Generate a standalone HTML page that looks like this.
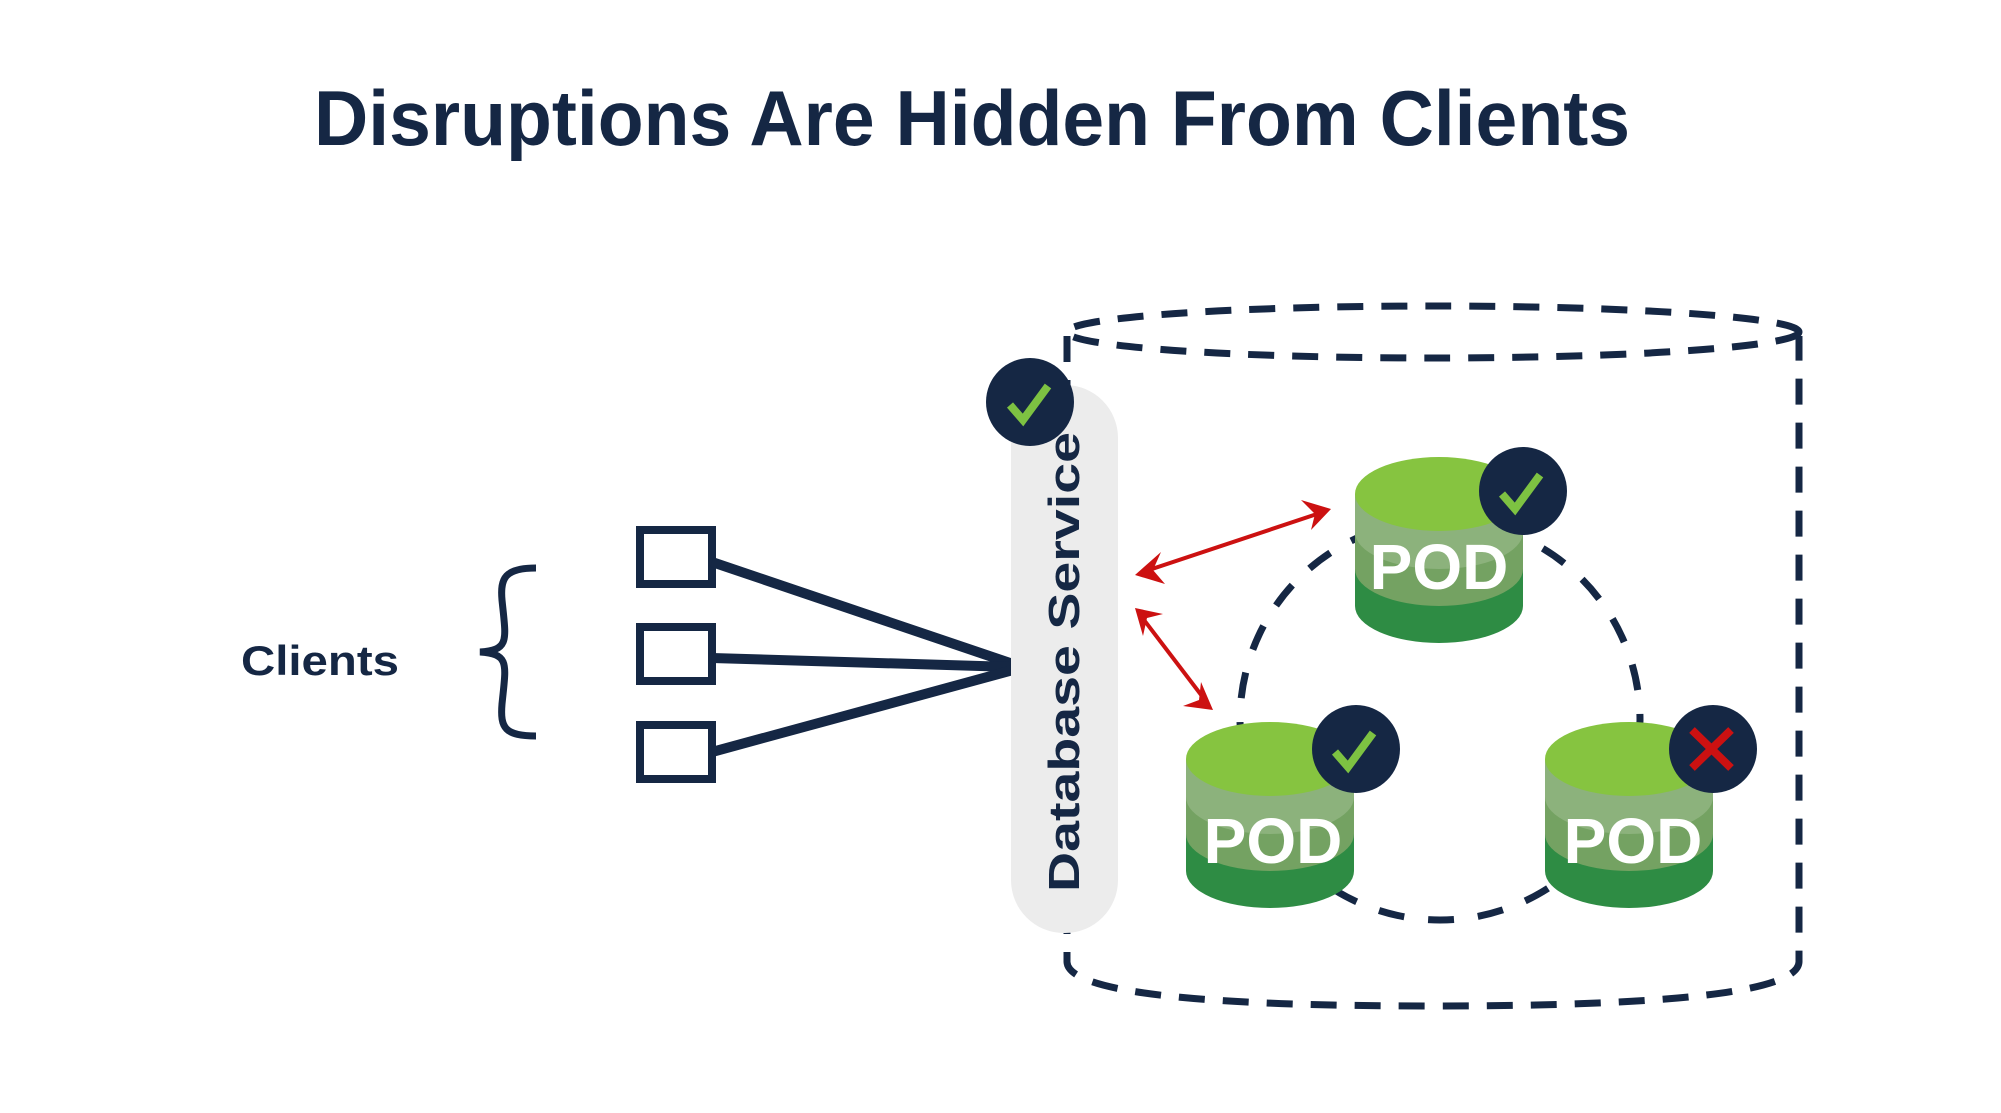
<!DOCTYPE html>
<html><head><meta charset="utf-8"><style>
html,body{margin:0;padding:0;background:#fff;}
svg{display:block;}
</style></head><body>
<svg width="2001" height="1113" viewBox="0 0 2001 1113" xmlns="http://www.w3.org/2000/svg">
<defs>
<g id="pod">
  <path d="M-84 0 V112 A84 37 0 0 0 84 112 V0 Z" fill="#2e8c44"/>
  <path d="M-84 0 V75 A84 37 0 0 0 84 75 V0 Z" fill="#74a262"/>
  <path d="M-84 0 V38 A84 37 0 0 0 84 38 V0 Z" fill="#8cb27c"/>
  <ellipse cx="0" cy="0" rx="84" ry="37" fill="#86c440"/>
</g>
</defs>
<text x="972" y="145" text-anchor="middle" font-family="Liberation Sans, sans-serif" font-weight="bold" font-size="78" fill="#152744" textLength="1316" lengthAdjust="spacingAndGlyphs">Disruptions Are Hidden From Clients</text>

<text x="241" y="675" font-family="Liberation Sans, sans-serif" font-weight="bold" font-size="42" fill="#152744" textLength="158" lengthAdjust="spacingAndGlyphs">Clients</text>

<path d="M536 568 C505 568 500 578 502 600 C506 640 510 650 480 652 C510 654 506 664 502 704 C500 728 505 736 536 736" fill="none" stroke="#152744" stroke-width="7"/>

<g fill="#fff" stroke="#152744" stroke-width="8">
<rect x="640" y="530" width="72" height="54"/>
<rect x="640" y="627" width="72" height="54"/>
<rect x="640" y="725" width="72" height="54"/>
</g>
<g stroke="#152744" stroke-width="10">
<line x1="712" y1="562" x2="1013" y2="664"/>
<line x1="712" y1="658" x2="1013" y2="667"/>
<line x1="712" y1="752" x2="1013" y2="670"/>
</g>

<g transform="translate(-7,0)">
<g fill="none" stroke="#152744" stroke-width="7" stroke-dasharray="26 18">
<ellipse cx="1440" cy="332" rx="366" ry="26"/>
<path d="M1074 336 V962 Q1076 1006 1440 1006 Q1804 1006 1806 962 V336"/>
</g>

<rect x="1018" y="385" width="107" height="548" rx="53" fill="#ececec"/>
<text transform="translate(1086,892) rotate(-90)" font-family="Liberation Sans, sans-serif" font-weight="bold" font-size="44" fill="#152744" textLength="460" lengthAdjust="spacingAndGlyphs">Database Service</text>
<circle cx="1037" cy="402" r="44" fill="#152744"/>
<path d="M1017 405 L1030 420 L1055 386" fill="none" stroke="#7dc242" stroke-width="8"/>

<circle cx="1447" cy="720" r="200" fill="none" stroke="#152744" stroke-width="7" stroke-dasharray="26 24"/>

<use href="#pod" x="1446" y="494"/>
<use href="#pod" x="1277" y="759"/>
<use href="#pod" x="1636" y="759"/>
<g font-family="Liberation Sans, sans-serif" font-weight="bold" font-size="64" fill="#fff" text-anchor="middle">
<text x="1446" y="589">POD</text>
<text x="1280" y="863">POD</text>
<text x="1640" y="863">POD</text>
</g>

<circle cx="1530" cy="491" r="44" fill="#152744"/>
<path d="M1509 494 L1522 509 L1547 475" fill="none" stroke="#7dc242" stroke-width="8"/>
<circle cx="1363" cy="749" r="44" fill="#152744"/>
<path d="M1342 752 L1355 767 L1380 733" fill="none" stroke="#7dc242" stroke-width="8"/>
<circle cx="1720" cy="749" r="44" fill="#152744"/>
<path d="M1699 730 L1738 768 M1738 730 L1699 768" fill="none" stroke="#cc1111" stroke-width="8"/>

<g stroke="#cc1111" stroke-width="4">
<line x1="1150" y1="572" x2="1330" y2="512"/>
<line x1="1148" y1="616" x2="1212" y2="700"/>
</g>
<g fill="#cc1111">
<path d="M1142 575 L1168 552 L1160 570 L1172 584 Z"/>
<path d="M1338 509 L1318 530 L1322 514 L1308 500 Z"/>
<path d="M1142 608 L1170 614 L1154 618 L1150 636 Z"/>
<path d="M1220 710 L1190 706 L1206 700 L1208 682 Z"/>
</g>
</g>
</svg>
</body></html>
